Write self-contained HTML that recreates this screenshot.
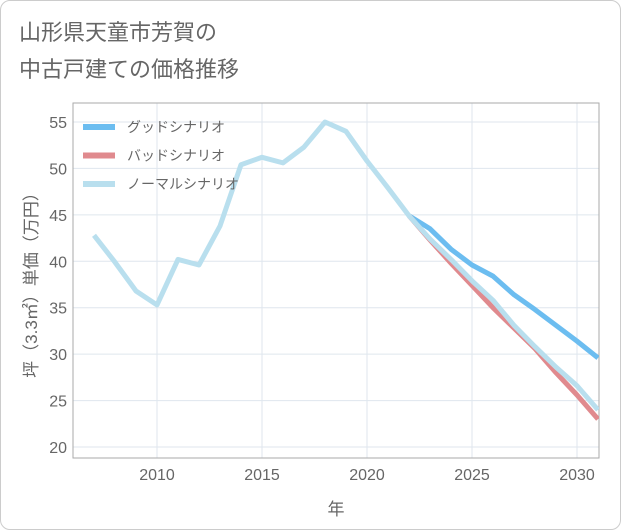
<!DOCTYPE html>
<html><head><meta charset="utf-8">
<style>
body{margin:0;background:#fff;font-family:"Liberation Sans","Noto Sans CJK JP",sans-serif;}
#card{position:absolute;left:0;top:0;width:619px;height:528px;border:1px solid #ccc;border-radius:10px;background:#fff;}
#title{position:absolute;left:18px;top:13px;font-size:22px;line-height:37px;color:#666;}
</style></head><body>
<div id="card">
<div id="title">山形県天童市芳賀の<br>中古戸建ての価格推移</div>
<svg id="chart" width="621" height="530" style="position:absolute;left:0;top:0"></svg>
</div>
<script>
const years=[2007,2008,2009,2010,2011,2012,2013,2014,2015,2016,2017,2018,2019,2020,2021,2022,2023,2024,2025,2026,2027,2028,2029,2030,2031];
const normalVals=[42.8,39.9,36.8,35.3,40.2,39.6,43.8,50.4,51.2,50.6,52.3,55.0,54.0,50.8,47.9,44.9,42.4,40.2,37.9,35.8,33.1,30.8,28.6,26.6,24.0];
const futureYears=[2022,2023,2024,2025,2026,2027,2028,2029,2030,2031];
const goodVals=[44.9,43.5,41.3,39.6,38.4,36.4,34.8,33.1,31.4,29.6];
const badVals=[44.9,42.3,39.8,37.4,35.0,32.8,30.6,28.0,25.6,23.0];
const yTicks=[20,25,30,35,40,45,50,55];
const xTicks=[2010,2015,2020,2025,2030];
const legendLabels=["グッドシナリオ","バッドシナリオ","ノーマルシナリオ"];
const colors=["#6cbdf0","#e08a8e","#b9dfee"];

const L=72,R=598,T=102,B=457;
const xs=v=>156+(v-2010)*21;
const ys=v=>446-(v-20)*(325/35);
const svg=document.getElementById('chart');
const NS="http://www.w3.org/2000/svg";
function mk(tag,attrs,parent){const e=document.createElementNS(NS,tag);for(const k in attrs)e.setAttribute(k,attrs[k]);(parent||svg).appendChild(e);return e;}

const plot=mk('rect',{x:L,y:T,width:R-L,height:B-T,fill:'#fff'});


yTicks.forEach(t=>{
  const g=mk('line',{x1:L,x2:R,y1:ys(t),y2:ys(t),stroke:'#dfe6ee'});
  
  
  const tx=mk('text',{x:L-6,y:ys(t)+6,'text-anchor':'end','font-size':16,fill:'#666'});
  tx.textContent=t;
  
  
});
xTicks.forEach(t=>{
  const g=mk('line',{x1:xs(t),x2:xs(t),y1:T,y2:B,stroke:'#dfe6ee'});
  
  
  const tx=mk('text',{x:xs(t),y:B+22,'text-anchor':'middle','font-size':16,fill:'#666'});
  tx.textContent=t;
  
  
});
mk('rect',{x:L,y:T,width:R-L,height:B-T,fill:'none',stroke:'#aaa'});
const clip=mk('clipPath',{id:'pc'});mk('rect',{x:L,y:T,width:R-L,height:B-T},clip);
function line(xv,yv,c,name){
  const p=mk('polyline',{points:xv.map((x,i)=>xs(x)+','+ys(yv[i])).join(' '),fill:'none',stroke:c,'stroke-width':5,'stroke-linejoin':'round','clip-path':'url(#pc)'});
  
  
}
line(futureYears,goodVals,colors[0],'good-scenario-line');
line(futureYears,badVals,colors[1],'bad-scenario-line');
line(years,normalVals,colors[2],'normal-scenario-line');
legendLabels.forEach((lab,i)=>{
  const y=126+i*28.5;
  const s=mk('line',{x1:82,x2:114,y1:y,y2:y,stroke:colors[i],'stroke-width':6});
  
  
  const t=mk('text',{x:126,y:y+5,'font-size':14,fill:'#666'});
  t.textContent=lab;
  
  
});
const yt=mk('text',{x:0,y:0,'font-size':17,fill:'#666','text-anchor':'middle',transform:'translate(36,280) rotate(-90)'});
yt.textContent='坪（3.3㎡）単価（万円）';


const xt=mk('text',{x:335,y:514,'font-size':17,fill:'#666','text-anchor':'middle'});
xt.textContent='年';


</script>
</body></html>
